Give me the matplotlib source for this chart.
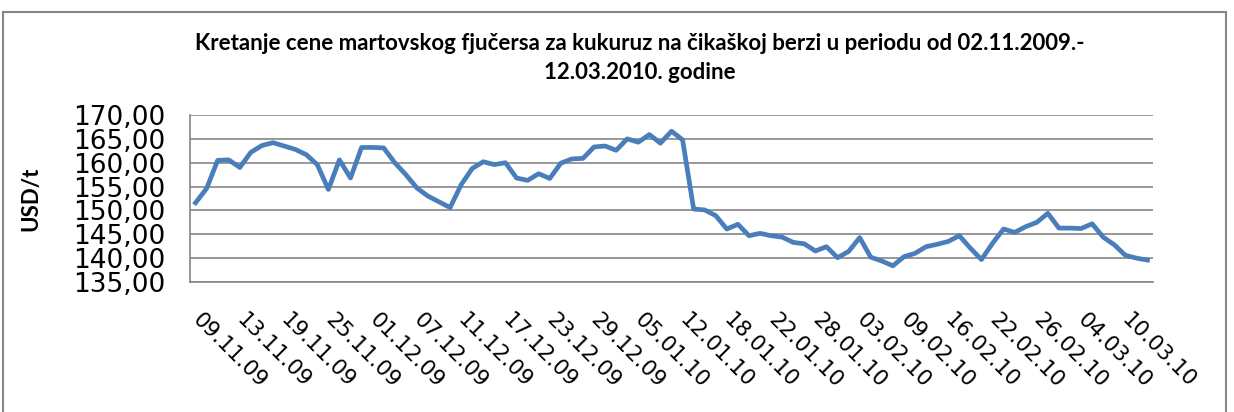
import numpy as np
import matplotlib
matplotlib.use("Agg")
import matplotlib.pyplot as plt
from matplotlib.lines import Line2D

# cijene (USD/t), jedna tacka po trgovackom danu
prices = [
    151.6, 154.6, 160.5, 160.6, 159.0, 162.2, 163.6, 164.2, 163.5, 162.8,
    161.7, 159.6, 154.4, 160.6, 156.8, 163.2, 163.2, 163.1, 160.0, 157.5,
    154.7, 153.0, 151.8, 150.6, 155.4, 158.8, 160.2, 159.6, 160.0, 156.8,
    156.3, 157.7, 156.7, 159.9, 160.8, 160.9, 163.3, 163.5, 162.6, 165.0,
    164.3, 165.9, 164.1, 166.6, 164.8, 150.3, 150.1, 148.9, 146.1, 147.1,
    144.7, 145.2, 144.7, 144.4, 143.3, 143.0, 141.5, 142.4, 140.1, 141.4,
    144.3, 140.2, 139.4, 138.4, 140.3, 141.0, 142.4, 142.9, 143.5, 144.7,
    142.1, 139.7, 143.1, 146.1, 145.4, 146.6, 147.5, 149.4, 146.3, 146.3,
    146.2, 147.2, 144.4, 142.8, 140.6, 140.0, 139.6,
]
date_labels = [
    "09.11.09", "13.11.09", "19.11.09", "25.11.09", "01.12.09", "07.12.09",
    "11.12.09", "17.12.09", "23.12.09", "29.12.09", "05.01.10", "12.01.10",
    "18.01.10", "22.01.10", "28.01.10", "03.02.10", "09.02.10", "16.02.10",
    "22.02.10", "26.02.10", "04.03.10", "10.03.10",
]
label_step = 4
y_ticks = [135, 140, 145, 150, 155, 160, 165, 170]

title = ("Kretanje cene martovskog fjučersa za kukuruz na čikaškoj berzi u periodu od 02.11.2009.-\n"
         "12.03.2010. godine")

W, H = 1234, 412
fig = plt.figure(figsize=(W / 100, H / 100), dpi=100)
ax = fig.add_axes([190 / W, 1 - 282 / H, (1153 - 190) / W, (282 - 115) / H])

x = np.arange(len(prices))
ax.plot(x, prices, color="#4a7ebb", lw=3.4, solid_joinstyle="round")

ax.set_xlim(-0.5, len(prices) - 0.5)
ax.set_ylim(135, 170)
ax.set_yticks(y_ticks)
ax.set_yticklabels([f"{v:.2f}".replace(".", ",") for v in y_ticks],
                   fontsize=19, family="DejaVu Sans")
ax.grid(axis="y", color="#868686", lw=1.2)
ax.set_axisbelow(True)

tick_pos = x[::label_step][:len(date_labels)]
ax.set_xticks(tick_pos)
ax.set_xticklabels(date_labels, rotation=-45, ha="left", va="center",
                   rotation_mode="anchor", fontsize=15.5, family="DejaVu Sans")
ax.tick_params(axis="both", length=0)
ax.tick_params(axis="x", pad=25)
ax.tick_params(axis="y", pad=18)

for s in ["top", "right"]:
    ax.spines[s].set_visible(False)
for s in ["left", "bottom"]:
    ax.spines[s].set_color("#868686")
    ax.spines[s].set_linewidth(1.2)

ax.set_ylabel("USD/t", fontsize=16, fontweight="bold", family="Lato")
ax.yaxis.set_label_coords((41 - 190) / (1153 - 190), 0.5)
fig.text(640 / W, 1 - 58 / H, title, ha="center", va="center",
         fontsize=16, fontweight="bold", family="Lato", linespacing=1.45)

# okvir grafikona
frame = dict(color="#868686", lw=1.5, transform=fig.transFigure)
fig.add_artist(Line2D([3 / W, 3 / W], [0, 1 - 12 / H], **frame))
fig.add_artist(Line2D([3 / W, 1226 / W], [1 - 12 / H, 1 - 12 / H], **frame))
fig.add_artist(Line2D([1226 / W, 1226 / W], [0, 1 - 12 / H], **frame))

fig.savefig("out.png", dpi=100)
